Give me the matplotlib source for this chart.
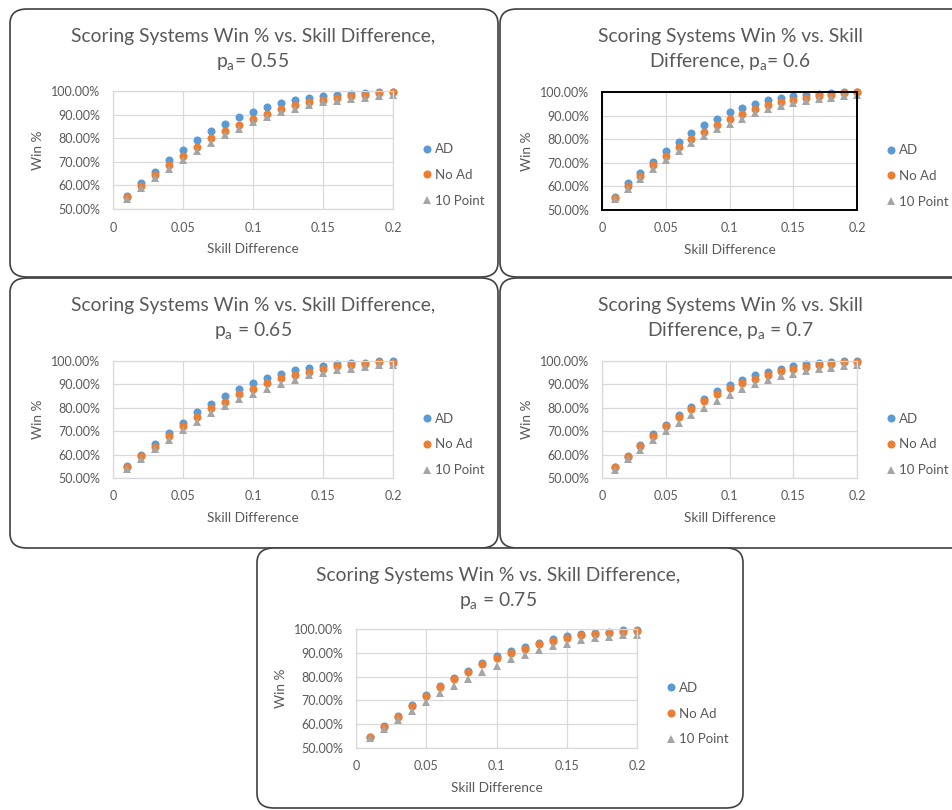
import matplotlib
matplotlib.use("Agg")
import matplotlib.pyplot as plt
from matplotlib.patches import FancyBboxPatch
from matplotlib.ticker import PercentFormatter

plt.rcParams['font.family'] = ['Lato', 'DejaVu Sans']
plt.rcParams['mathtext.default'] = 'regular'

W, H = 952, 810

# skill difference (x) shared by all panels
skill = [0.01, 0.02, 0.03, 0.04, 0.05, 0.06, 0.07, 0.08, 0.09, 0.10,
         0.11, 0.12, 0.13, 0.14, 0.15, 0.16, 0.17, 0.18, 0.19, 0.20]

titles = [
    "Scoring Systems Win % vs. Skill Difference,\np$_a$= 0.55",
    "Scoring Systems Win % vs. Skill\nDifference, p$_a$= 0.6",
    "Scoring Systems Win % vs. Skill Difference,\np$_a$ = 0.65",
    "Scoring Systems Win % vs. Skill\nDifference, p$_a$ = 0.7",
    "Scoring Systems Win % vs. Skill Difference,\np$_a$ = 0.75",
]

# win %, one list per panel
ad_055 = [55.3, 61.0, 65.7, 70.6, 75.1, 79.1, 82.9, 86.2, 88.8, 91.2,
          93.3, 94.9, 96.2, 97.2, 97.9, 98.5, 98.9, 99.3, 99.4, 99.7]
noad_055 = [55.0, 59.8, 64.2, 68.5, 72.5, 76.4, 80.1, 82.9, 85.5, 88.3,
            90.4, 92.3, 94.0, 95.2, 96.3, 97.2, 97.9, 98.5, 99.0, 99.4]
ten_055 = [54.2, 58.7, 63.1, 67.0, 70.8, 74.7, 78.1, 81.3, 84.1, 86.8,
           89.0, 90.9, 92.4, 94.0, 95.2, 95.8, 96.8, 97.2, 97.8, 98.3]

ad_060 = [55.6, 61.3, 65.5, 70.3, 74.9, 78.9, 82.7, 85.9, 88.7, 91.5,
          93.2, 94.9, 96.6, 97.6, 98.3, 98.9, 99.3, 99.7, 99.8, 100.0]
noad_060 = [55.2, 60.1, 64.5, 68.9, 72.8, 76.6, 80.0, 83.2, 86.1, 88.7,
            90.8, 92.8, 94.4, 95.8, 96.8, 97.6, 98.3, 98.9, 99.4, 99.9]
ten_060 = [54.5, 58.9, 63.2, 67.2, 71.1, 75.1, 78.5, 81.5, 84.5, 86.6,
           88.7, 91.0, 92.8, 94.2, 95.5, 96.2, 97.0, 97.6, 98.2, 98.6]

ad_065 = [55.1, 60.0, 64.7, 69.2, 73.6, 78.2, 81.6, 84.9, 88.2, 90.6,
          92.7, 94.4, 96.0, 97.2, 97.9, 98.7, 99.1, 99.3, 99.9, 99.9]
noad_065 = [54.7, 59.3, 63.4, 68.1, 72.1, 75.9, 79.9, 82.5, 85.9, 88.2,
            90.5, 92.6, 93.9, 95.4, 96.7, 97.9, 98.4, 98.9, 99.4, 99.3]
ten_065 = [53.7, 58.1, 62.5, 66.4, 70.4, 73.9, 77.6, 80.6, 83.6, 86.0,
           88.2, 90.3, 92.0, 93.9, 94.7, 96.0, 96.6, 97.6, 98.1, 98.1]

ad_070 = [54.7, 59.3, 64.0, 68.7, 72.5, 77.1, 80.5, 83.9, 87.0, 89.6,
          91.7, 93.9, 95.3, 96.7, 97.9, 98.6, 99.0, 99.4, 99.9, 99.9]
noad_070 = [54.6, 59.0, 63.5, 68.1, 72.1, 76.1, 79.3, 82.8, 85.8, 88.5,
            90.7, 92.5, 94.2, 95.6, 96.7, 97.6, 98.4, 98.9, 99.4, 99.4]
ten_070 = [53.6, 58.0, 62.1, 66.1, 70.1, 73.5, 76.8, 79.9, 82.8, 85.6,
           87.9, 90.0, 91.9, 93.6, 94.4, 95.7, 96.6, 97.2, 97.9, 98.1]

ad_075 = [54.6, 59.2, 63.5, 68.0, 72.1, 75.9, 79.3, 82.4, 85.8, 88.5,
          90.6, 92.5, 94.1, 95.8, 96.9, 97.9, 98.3, 98.9, 99.6, 99.6]
noad_075 = [54.5, 58.9, 63.2, 67.7, 71.7, 75.5, 78.9, 82.1, 85.4, 87.7,
            90.0, 91.7, 93.5, 95.1, 96.3, 97.3, 97.9, 98.3, 98.9, 99.3]
ten_075 = [54.1, 58.0, 61.7, 65.6, 69.4, 73.0, 76.2, 79.0, 82.1, 84.6,
           87.3, 89.2, 91.3, 93.0, 93.9, 95.2, 96.1, 96.6, 97.3, 97.6]

series_names = ["AD", "No Ad", "10 Point"]
series_colors = ["#5B9BD5", "#ED7D31", "#A5A5A5"]
series_markers = ["o", "o", "^"]

panel_data = [
    (ad_055, noad_055, ten_055),
    (ad_060, noad_060, ten_060),
    (ad_065, noad_065, ten_065),
    (ad_070, noad_070, ten_070),
    (ad_075, noad_075, ten_075),
]

# layout in pixels: box (l, t, r, b), axes (l, t, r, b), title centre x, legend x
layout = [
    dict(box=(10, 9, 498, 277), ax=(113, 91, 393, 209), tx=253, lx=423),
    dict(box=(500, 9, 975, 277), ax=(602, 92, 857, 210), tx=730, lx=887),
    dict(box=(10, 278, 498, 548), ax=(113, 361, 393, 478), tx=253, lx=423),
    dict(box=(500, 278, 975, 548), ax=(602, 361, 857, 478), tx=730, lx=887),
    dict(box=(257, 548, 743, 808), ax=(356, 629, 637, 748), tx=498, lx=667),
]

text_col = "#595959"
grid_col = "#D9D9D9"

fig = plt.figure(figsize=(W / 100, H / 100), dpi=100)


def fx(px):
    return px / W


def fy(py):
    return 1 - py / H


for i, (lay, data, title) in enumerate(zip(layout, panel_data, titles)):
    bl, bt, br, bb = lay['box']
    fig.patches.append(FancyBboxPatch(
        (fx(bl), fy(bb)), fx(br - bl), (bb - bt) / H,
        boxstyle="round,pad=0,rounding_size=0.018",
        transform=fig.transFigure, facecolor="white",
        edgecolor="#404040", linewidth=1.2, zorder=0))

    l, t, r, b = lay['ax']
    ax = fig.add_axes([fx(l), fy(b), fx(r - l), (b - t) / H])
    ax.set_zorder(2)

    for ys, name, col, mk in zip(data, series_names, series_colors, series_markers):
        ax.plot(skill, ys, linestyle="none", marker=mk, color=col,
                markersize=5.8, markeredgewidth=0, label=name, clip_on=False)

    ax.set_xlim(0, 0.2)
    ax.set_ylim(50, 100)
    ax.set_xticks([0, 0.05, 0.1, 0.15, 0.2])
    ax.set_xticklabels(["0", "0.05", "0.1", "0.15", "0.2"])
    ax.set_yticks([50, 60, 70, 80, 90, 100])
    ax.yaxis.set_major_formatter(PercentFormatter(decimals=2))
    ax.tick_params(length=0, labelsize=9, labelcolor=text_col)
    ax.tick_params(axis='y', pad=9)
    ax.tick_params(axis='x', pad=9)
    ax.grid(True, color=grid_col, linewidth=0.9)
    ax.set_axisbelow(True)
    for sp in ax.spines.values():
        sp.set_color(grid_col)
        sp.set_linewidth(0.9)
    if i == 1:
        # this plot area is shown selected, with a black frame
        for sp in ax.spines.values():
            sp.set_color("black")
            sp.set_linewidth(1.4)

    ax.set_xlabel("Skill Difference", fontsize=9.8, color=text_col)
    ax.xaxis.label.set_va('center')
    ax.xaxis.set_label_coords(0.5, -40 / (b - t))
    ax.set_ylabel("Win %", fontsize=9.8, color=text_col)
    ax.yaxis.label.set_va('center')
    ax.yaxis.set_label_coords(-75 / (r - l), 0.5)

    lines = title.split("\n")
    fig.text(fx(lay['tx']), fy(bt + 33), lines[0], ha='center', va='baseline',
             fontsize=13.9, color=text_col)
    fig.text(fx(lay['tx']), fy(bt + 58), lines[1], ha='center', va='baseline',
             fontsize=13.9, color=text_col)

    leg = ax.legend(loc='center left',
                    bbox_to_anchor=(fx(lay['lx']), fy((t + b) / 2 + 25)),
                    bbox_transform=fig.transFigure, frameon=False,
                    fontsize=9.5, handlelength=0.6, handletextpad=0.3,
                    labelspacing=1.05, borderpad=0, borderaxespad=0)
    for txt in leg.get_texts():
        txt.set_color(text_col)

fig.savefig("out.png", dpi=100, facecolor="white")
